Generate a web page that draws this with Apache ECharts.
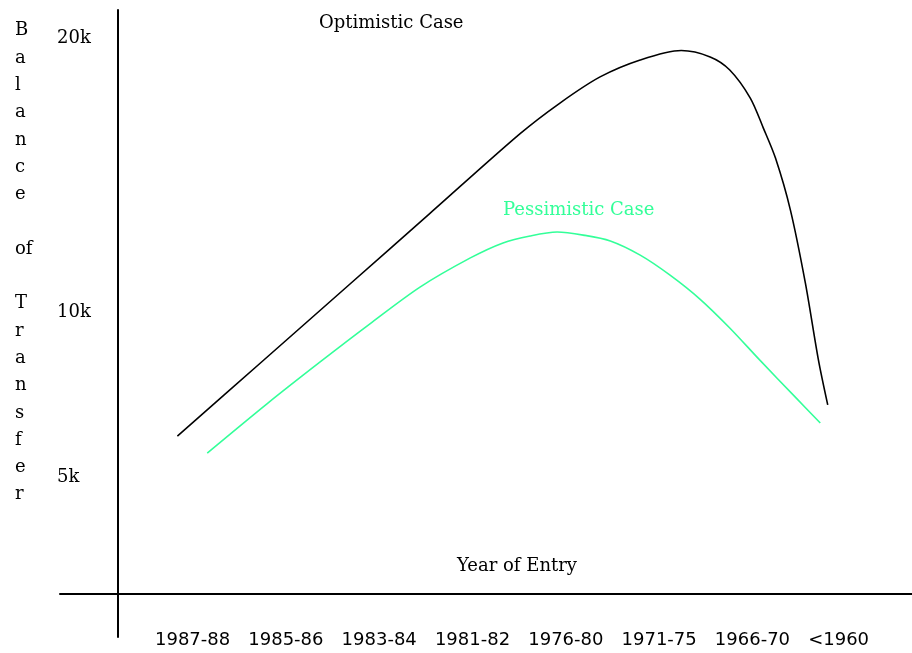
<!DOCTYPE html>
<html>
<head>
<meta charset="utf-8">
<script src="https://cdn.jsdelivr.net/npm/echarts@6/dist/echarts.min.js"></script>
<style>
  html, body { margin: 0; padding: 0; background: #fff; }
  #chart { width: 912px; height: 653px; }
</style>
</head>
<body>
<div id="chart"></div>
<script>
// x is measured in label slots (0 = 1987-88), y in thousands
let yearLabels = ['1987-88', '1985-86', '1983-84', '1981-82', '1976-80', '1971-75', '1966-70', '<1960']
let yearSlots = [0, 1, 2, 3, 4, 5, 6, 7]

// the hand drawn axis is not linear, so labels sit where they were drawn
let yLabels = ['5k', '10k', '20k']
let yLabelAt = [4.21, 10.14, 20]

let optX = [0.24, 1.13, 2.09, 2.95, 3.91, 4.34, 4.77, 5.20, 5.64, 5.95, 6.16, 6.38, 6.52, 6.65, 6.81, 6.97, 7.11, 7.21]
let optY = [5.68, 8.31, 11.15, 13.70, 16.55, 17.66, 18.60, 19.21, 19.55, 19.32, 18.85, 17.84, 16.76, 15.68, 13.81, 11.19, 8.42, 6.80]

let pesX = [0.56, 1.21, 1.77, 2.30, 2.84, 3.38, 3.73, 4.02, 4.31, 4.59, 4.88, 5.20, 5.52, 5.84, 6.16, 6.48, 6.86, 7.13]
let pesY = [5.07, 6.87, 8.35, 9.71, 11.04, 12.09, 12.63, 12.88, 13.02, 12.91, 12.70, 12.19, 11.47, 10.61, 9.57, 8.42, 7.09, 6.15]

let yName = 'Balance of Transfer'
let green = '#33ff99'
let serif = 'DejaVu Serif'

function pairs (xs, ys) {
  return xs.map((x, i) => [x, ys[i]])
}

let option = {
  animation: false,
  backgroundColor: '#fff',
  title: [{
    // stacked letters, a blank line for each space
    text: yName.split(' ').map(w => w.length > 2 ? w.split('').join('\n') : w).join('\n\n'),
    left: 15,
    top: 17,
    padding: 0,
    textStyle: { fontFamily: serif, fontSize: 18, fontWeight: 'normal', color: '#000', lineHeight: 27.3 }
  }, {
    text: 'Optimistic Case',
    left: 319,
    top: 14,
    padding: 0,
    textStyle: { fontFamily: serif, fontSize: 18, fontWeight: 'normal', color: '#000' }
  }, {
    text: 'Pessimistic Case',
    left: 503,
    top: 201,
    padding: 0,
    textStyle: { fontFamily: serif, fontSize: 18, fontWeight: 'normal', color: green }
  }, {
    text: 'Year of Entry',
    left: 457,
    top: 557,
    padding: 0,
    textStyle: { fontFamily: serif, fontSize: 18, fontWeight: 'normal', color: '#000' }
  }],
  grid: {
    left: 60,
    right: 0,
    top: 10,
    bottom: 16,
    outerBoundsMode: 'none'
  },
  xAxis: {
    type: 'value',
    min: -1.018,
    max: 8.113,
    offset: -43,
    axisLine: { onZero: false, lineStyle: { color: '#000', width: 2 } },
    axisTick: { show: false },
    splitLine: { show: false },
    axisLabel: {
      customValues: yearSlots,
      formatter: (v) => yearLabels[yearSlots.indexOf(v)],
      align: 'left',
      margin: 37,
      fontFamily: 'DejaVu Sans',
      fontSize: 18,
      color: '#000'
    }
  },
  yAxis: {
    type: 'value',
    min: -1.547,
    max: 21.007,
    offset: -58,
    axisLine: { show: true, onZero: false, lineStyle: { color: '#000', width: 2 } },
    axisTick: { show: false },
    splitLine: { show: false },
    axisLabel: {
      customValues: yLabelAt,
      formatter: (v) => yLabels[yLabelAt.indexOf(v)],
      align: 'left',
      margin: 61,
      fontFamily: serif,
      fontSize: 18,
      color: '#000'
    }
  },
  series: [{
    name: 'Optimistic Case',
    type: 'line',
    smooth: 0.3,
    symbol: 'none',
    lineStyle: { color: '#000', width: 1.6 },
    data: pairs(optX, optY)
  }, {
    name: 'Pessimistic Case',
    type: 'line',
    smooth: 0.3,
    symbol: 'none',
    lineStyle: { color: green, width: 1.6 },
    data: pairs(pesX, pesY)
  }]
}

let myChart = echarts.init(document.getElementById('chart'))
myChart.setOption(option)
</script>
</body>
</html>
